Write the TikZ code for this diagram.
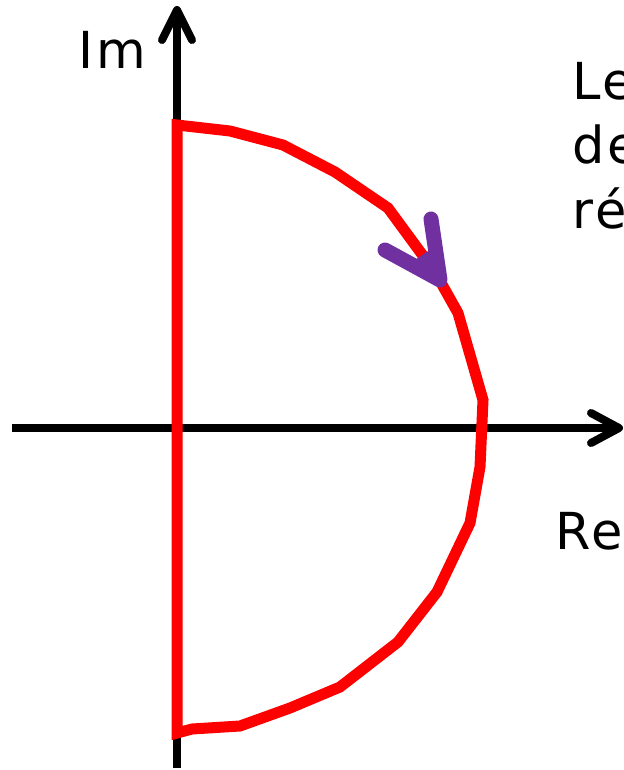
\documentclass[tikz,border=0pt]{standalone}
\usepackage{fontspec}
\setmainfont{DejaVu Sans}[LetterSpace=6]
\usetikzlibrary{calc}
\definecolor{contourred}{HTML}{FF0000}
\definecolor{arrowpurple}{HTML}{7030A0}
\begin{document}
\begin{tikzpicture}[x=1pt,y=-1pt,
  axis/.style={line width=8pt,black},
  chevron/.style={line width=8pt,black,line cap=round,line join=round},
  contour/.style={line width=11pt,contourred,line join=miter},
  dirarrow/.style={line width=15pt,arrowpurple,line cap=round,line join=round},
  lbl/.style={inner sep=0pt,anchor=base west,font=\fontsize{51}{60}\selectfont}]
\useasboundingbox (0,0) rectangle (623,770);
% axes
\coordinate (xs) at (12,428);
\coordinate (xe) at (619,428);
\coordinate (ys) at (177,768);
\coordinate (ye) at (177,10);
\draw[axis] (xs) -- (xe);
\draw[axis] (ys) -- (ye);
\draw[chevron] ($(xe)+(-28,-15)$) -- (xe) -- ($(xe)+(-28,15)$);
\draw[chevron] ($(ye)+(-15,30)$) -- (ye) -- ($(ye)+(15,30)$);
% contour
\draw[contour] (177,125) -- (230,131) -- (283,145) -- (335,172) -- (388,208)
  -- (435,272) -- (458,313) -- (483,400) -- (480,467) -- (470,523)
  -- (437,592) -- (398,642) -- (340,687) -- (290,708) -- (240,726)
  -- (192,729) -- (177,733) -- cycle;
% direction arrow
\coordinate (tip) at (440,280);
\coordinate (a1) at (431,219);
\coordinate (a2) at (385,250);
\draw[dirarrow] (a1) -- (tip) -- (a2);
\fill[arrowpurple] (tip) -- ($(tip)!0.55!(a1)$) -- ($(tip)!0.55!(a2)$) -- cycle;
% labels
\node[lbl] (im) at (78,69) {Im};
\node[lbl] (re) at (555,549) {Re};
\node[lbl] (t1) at (572,100) {Le};
\node[lbl] (t2) at (572,164) {de};
\node[lbl] (t3) at (572,228) {ré};
\end{tikzpicture}
\end{document}
